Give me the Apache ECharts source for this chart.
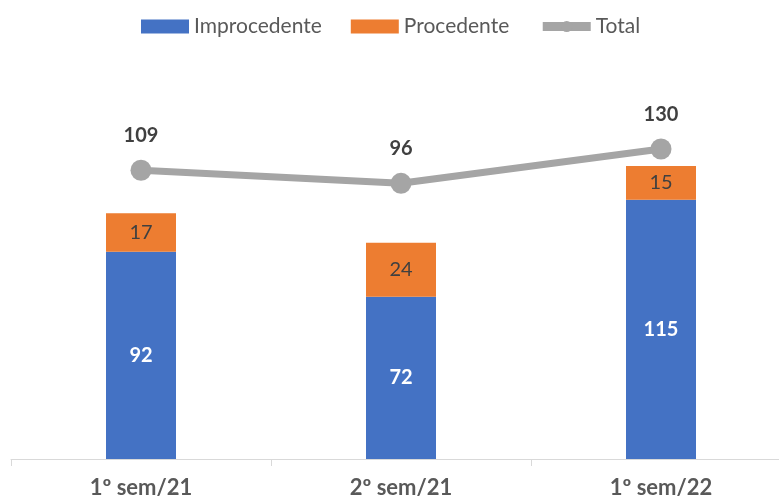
<!DOCTYPE html>
<html>
<head>
<meta charset="utf-8">
<script src="https://cdn.jsdelivr.net/npm/echarts@6/dist/echarts.min.js"></script>
<style>
  html, body { margin: 0; padding: 0; background: #fff; overflow: hidden; }
  /* o eixo do original passa da borda direita; o canvas é um pouco mais largo e fica cortado */
  #chart { width: 791px; height: 500px; }
</style>
</head>
<body>
<div id="chart"></div>
<script>
// dados do gráfico
const categories = ['1º sem/21', '2º sem/21', '1º sem/22'];
const improcedente = [92, 72, 115];
const procedente = [17, 24, 15];
const total = [109, 96, 130];

const FONT = 'Lato, "Noto Sans", sans-serif';

const myChart = echarts.init(document.getElementById('chart'), null, { renderer: 'canvas' });

const option = {
  animation: false,
  textStyle: { fontFamily: FONT },
  legend: {
    top: 16,
    left: 141,
    padding: 0,
    itemWidth: 48,
    itemHeight: 14,
    itemGap: 29,
    textStyle: { fontFamily: FONT, fontSize: 21, color: '#595959' },
    data: [
      { name: 'Improcedente', icon: 'rect' },
      { name: 'Procedente', icon: 'rect' },
      { name: 'Total', lineStyle: { width: 9 } }
    ]
  },
  grid: {
    left: 11,
    right: 0,
    top: 59,
    bottom: 41,
    containLabel: false
  },
  xAxis: {
    type: 'category',
    data: categories,
    axisLine: { lineStyle: { color: '#d9d9d9', width: 1 } },
    axisTick: { show: true, length: 7, lineStyle: { color: '#d9d9d9' } },
    axisLabel: {
      color: '#595959',
      fontFamily: FONT,
      fontWeight: 'bold',
      fontSize: 22,
      margin: 18
    }
  },
  yAxis: [
    { type: 'value', min: 0, max: 177.5, show: false, splitLine: { show: false } },
    { type: 'value', min: -177.2, max: 219.2, show: false, splitLine: { show: false } }
  ],
  series: [
    {
      name: 'Improcedente',
      type: 'bar',
      stack: 'total',
      barWidth: 70,
      data: improcedente,
      itemStyle: { color: '#4472C4' },
      label: {
        show: true,
        position: 'inside',
        color: '#ffffff',
        fontWeight: 'bold',
        fontSize: 20,
        fontFamily: FONT
      }
    },
    {
      name: 'Procedente',
      type: 'bar',
      stack: 'total',
      barWidth: 70,
      data: procedente,
      itemStyle: { color: '#ED7D31' },
      label: {
        show: true,
        position: 'inside',
        color: '#404040',
        fontSize: 20,
        fontFamily: FONT
      }
    },
    {
      name: 'Total',
      type: 'line',
      yAxisIndex: 1,
      data: total,
      symbol: 'circle',
      symbolSize: 21,
      lineStyle: { color: '#A5A5A5', width: 7 },
      itemStyle: { color: '#A5A5A5' },
      label: {
        show: true,
        position: 'top',
        distance: 14,
        color: '#404040',
        fontWeight: 'bold',
        fontSize: 20,
        fontFamily: FONT
      }
    }
  ]
};

myChart.setOption(option);
</script>
</body>
</html>
